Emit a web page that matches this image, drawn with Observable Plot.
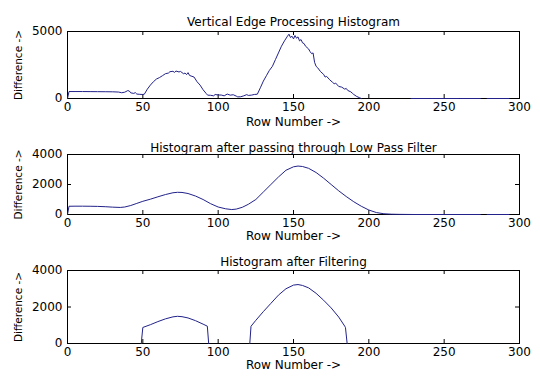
<!DOCTYPE html>
<html><head><meta charset="utf-8">
<script src="https://cdn.jsdelivr.net/npm/d3@7"></script>
<script src="https://cdn.jsdelivr.net/npm/@observablehq/plot@0.6"></script>
<style>
body{margin:0;background:#fff;width:540px;height:376px;overflow:hidden;position:relative;font-family:"DejaVu Sans",sans-serif}
.p{position:absolute;left:0}
svg{overflow:visible}
</style></head><body>
<div id="p1" class="p" style="top:0px"></div>
<div id="p2" class="p" style="top:130px"></div>
<div id="p3" class="p" style="top:250px"></div>
<script>
const xTicks = [0, 50, 100, 150, 200, 250, 300];
const yTicks1 = [0, 5000];
const yTicks23 = [0, 2000, 4000];
const titles = ["Vertical Edge Processing Histogram", "Histogram after passing through Low Pass Filter", "Histogram after Filtering"];
const xLabel = "Row Number ->";
const yLabel = "Difference ->";

// Panel 1: raw histogram (null = gap)
const rawRow = [0,1,5,10,15,20,25,30,34,36,38,40,41,42,44,45,46,48,50,51,53,55,57,59,61,63,65,67,68,70,71,72,74,75,77,78,79,80,81,82,84,86,88,90,92,93,95,97,98,100,102,104,106,108,110,112,113,115,117,119,120,122,124,126,128,130,132,134,136,138,140,142,144,146,147,148,149,150,151,152,153,154,155,156,157,158,160,161,162,163,164,165,166,168,170,171,172,174,176,177,178,180,182,184,185,186,188,189,190,192,194,195,196,228,240,250,260,274,276,278.5,293];
const rawDiff = [0,520,520,520,515,510,505,500,480,430,470,590,560,420,380,440,330,310,300,320,700,1000,1250,1450,1560,1700,1850,1900,2000,2030,1950,2050,1980,2020,1850,1900,1780,1930,1720,1680,1600,1250,1000,650,380,250,240,200,300,260,260,200,330,250,280,180,120,130,200,290,230,250,300,320,800,1300,1700,2100,2400,2900,3400,3900,4300,4650,4800,4550,4650,4450,4700,4500,4600,4300,4400,4150,4100,3900,3700,3500,3350,3400,2700,2400,2300,2000,1800,1600,1650,1400,1200,1100,1150,900,850,700,750,600,500,400,300,150,50,0,null,0,0,0,0,0,null,0,0];

// Panel 2: low-pass filtered
const lpRow = [0,1,5,10,15,20,25,30,35,38,42,46,50,55,60,65,70,73,76,80,85,90,95,100,105,109,112,116,120,125,130,135,140,145,150,153,156,160,165,170,175,180,185,190,195,200,205,210,215,220,230,250,274,276,278.5,293];
const lpDiff = [0,550,555,555,550,540,520,490,470,500,600,740,880,1020,1180,1330,1450,1480,1470,1400,1230,1000,720,500,380,330,360,480,680,1000,1500,2000,2500,2950,3180,3230,3200,3080,2800,2420,2000,1580,1200,850,550,300,130,50,20,10,0,0,0,null,0,0];

// Panel 3: after filtering (two segments)
const fRow = [49,49.3,50,55,60,65,70,73,76,80,85,90,92.8,93.7,94,121,121.8,125,130,135,140,145,150,153,156,160,165,170,175,180,184,184.5,185.6];
const fDiff = [0,300,880,1030,1200,1350,1460,1490,1470,1400,1250,1060,950,0,null,0,945,1270,1750,2200,2650,3000,3200,3230,3180,3050,2750,2370,1950,1450,950,870,0];

const lineColor = "#22228a";
const font = "'DejaVu Sans', sans-serif";

function panel({rows, vals, ymax, yTicks, title, height, mt, mb, titleDy, xlabDy}) {
  const W = 540, ml = 67, mr = 21;
  const fw = W - ml - mr, fh = height - mt - mb, tk = 4;
  const data = rows.map((r, i) => ({x: r, y: vals[i]}));
  return Plot.plot({
    width: W, height, marginLeft: ml, marginRight: mr, marginTop: mt, marginBottom: mb,
    x: {domain: [0, 300]},
    y: {domain: [0, ymax]},
    style: {fontFamily: font, fontSize: "12px", background: "white", overflow: "visible", color: "black"},
    marks: [
      Plot.frame({stroke: "black"}),
      Plot.ruleX(xTicks, {x: d => d, insetTop: fh - tk, stroke: "black"}),
      Plot.ruleX(xTicks, {x: d => d, insetBottom: fh - tk, stroke: "black"}),
      Plot.ruleY(yTicks, {y: d => d, insetRight: fw - tk, stroke: "black"}),
      Plot.ruleY(yTicks, {y: d => d, insetLeft: fw - tk, stroke: "black"}),
      Plot.axisX({ticks: xTicks, tickSize: 0, tickPadding: 4, label: null, fontSize: 12, tickFormat: d => String(d)}),
      Plot.axisY({ticks: yTicks, tickSize: 0, tickPadding: 5, label: null, fontSize: 12, tickFormat: d => String(d)}),
      Plot.line(data, {x: "x", y: "y", stroke: lineColor, strokeWidth: 1}),
      Plot.text([title], {text: d => d, frameAnchor: "top", dy: titleDy, fontSize: 12}),
      Plot.text([xLabel], {text: d => d, frameAnchor: "bottom", dy: xlabDy, fontSize: 12}),
      Plot.text([yLabel], {text: d => d, frameAnchor: "left", textAnchor: "middle", dx: -49, rotate: -90, fontSize: 10.5})
    ]
  });
}

document.getElementById("p1").append(panel({rows: rawRow, vals: rawDiff, ymax: 5000, yTicks: yTicks1, title: titles[0], height: 130, mt: 31, mb: 32, titleDy: -14, xlabDy: 27}));
document.getElementById("p2").append(panel({rows: lpRow, vals: lpDiff, ymax: 4000, yTicks: yTicks23, title: titles[1], height: 120, mt: 24, mb: 36, titleDy: -11, xlabDy: 25}));
document.getElementById("p3").append(panel({rows: fRow, vals: fDiff, ymax: 4000, yTicks: yTicks23, title: titles[2], height: 126, mt: 20, mb: 33, titleDy: -13, xlabDy: 25}));
</script>
</body></html>
